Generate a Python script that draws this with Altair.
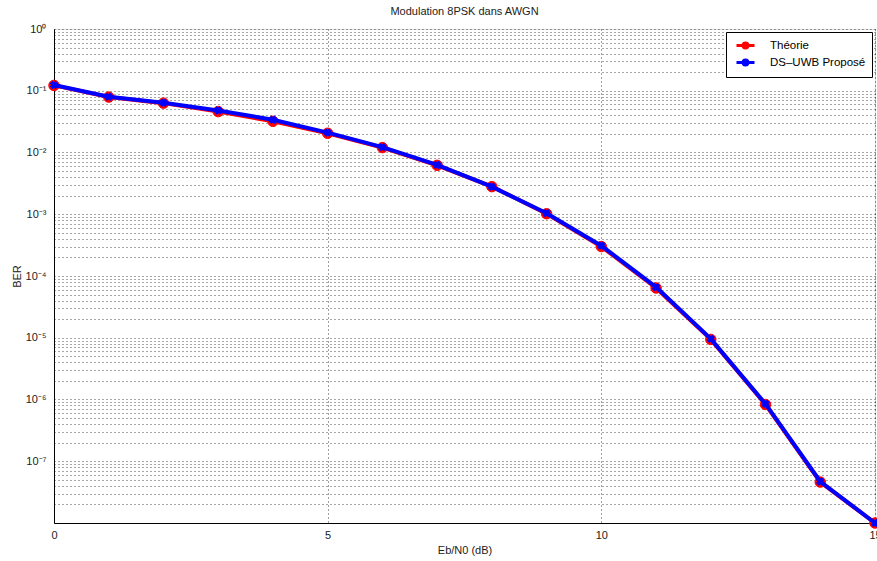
import altair as alt
import pandas as pd

ebn0 = list(range(16))
ber_theory = [0.122, 0.079, 0.063, 0.046, 0.032, 0.0205, 0.0120, 0.0062, 0.0028, 0.00102,
              3.0e-4, 6.4e-5, 9.4e-6, 8.3e-7, 4.6e-8, 1.0e-8]
ber_sim = [0.124, 0.080, 0.064, 0.048, 0.034, 0.0210, 0.0122, 0.0063, 0.0028, 0.00104,
           3.1e-4, 6.6e-5, 9.6e-6, 8.5e-7, 4.7e-8, 1.0e-8]
series_names = ["Théorie", "DS\u2013UWB Proposé"]
series_colors = ["#ff0000", "#0000ff"]
x_ticks = [0, 5, 10, 15]

rows = []
for name, vals in zip(series_names, [ber_theory, ber_sim]):
    for x, v in zip(ebn0, vals):
        rows.append({"x": x, "ber": v, "serie": name})
df = pd.DataFrame(rows)

y_vals = []
for e in range(-8, 1):
    for m in range(1, 10):
        v = m * 10.0 ** e
        if v <= 1.0000001:
            y_vals.append(float(f"{v:.10g}"))

sup = "['10\u2070','10\u207b\u00b9','10\u207b\u00b2','10\u207b\u00b3','10\u207b\u2074','10\u207b\u2075','10\u207b\u2076','10\u207b\u2077','']"
label_expr = (
    "abs(datum.value / pow(10, round(log(datum.value)/LN10)) - 1) < 0.001 ? "
    + sup + "[-round(log(datum.value)/LN10)] : ''"
)

FONT = "Liberation Sans"
legend = alt.Legend(
    title=None, orient="top-right", offset=3,
    fillColor="white", strokeColor="black", padding=6, cornerRadius=0,
    labelFont=FONT, labelFontSize=11.5, labelColor="black",
    symbolType="M-0.5,0L2.5,0M0.6,0A0.4,0.4 0 1 0 1.4,0A0.4,0.4 0 1 0 0.6,0Z",
    symbolSize=144, symbolStrokeWidth=3, rowPadding=0, labelOffset=23,
)
scale = alt.Scale(domain=series_names, range=series_colors)
fill = alt.Fill("serie:N", scale=scale, legend=legend)
stroke = alt.Stroke("serie:N", scale=scale, legend=legend)

x_enc = alt.X(
    "x:Q", title="Eb/N0 (dB)",
    scale=alt.Scale(domain=[0, 15], nice=False, zero=False),
    axis=alt.Axis(values=x_ticks, grid=True, gridDash=[1, 3], gridColor="black",
                  gridOpacity=0.75, ticks=False, labelPadding=6, labelFont=FONT,
                  labelFontSize=11, labelColor="#222", titleFont=FONT, titleFontSize=11,
                  titleFontWeight="normal", titleColor="#222", titlePadding=4,
                  domainColor="black", labelFlush=False),
)
y_enc = alt.Y(
    "ber:Q", title="BER",
    scale=alt.Scale(type="log", domain=[1e-8, 1], nice=False),
    axis=alt.Axis(values=y_vals, labelExpr=label_expr, grid=True, gridDash=[1, 3],
                  gridColor="black", gridOpacity=0.7, ticks=False, labelPadding=8,
                  labelFont=FONT, labelFontSize=11, labelColor="#222", titleFont=FONT,
                  titleFontSize=11, titleFontWeight="normal", titleColor="#222",
                  titlePadding=3, domainColor="black"),
)

theory = df[df.serie == series_names[0]]
sim = df[df.serie == series_names[1]]

red_line = alt.Chart(theory).mark_line(strokeWidth=4).encode(x=x_enc, y=y_enc, stroke=stroke)
red_pts = alt.Chart(theory).mark_point(filled=True, size=110, opacity=1, shape="circle",
                                       strokeWidth=1).encode(x=x_enc, y=y_enc, fill=fill, stroke=stroke)
blue_line = alt.Chart(sim).mark_line(strokeWidth=4).encode(x=x_enc, y=y_enc, stroke=stroke)
blue_pts = alt.Chart(sim).mark_point(filled=True, size=50, opacity=1, shape="cross", angle=45,
                                     strokeWidth=1).encode(x=x_enc, y=y_enc, fill=fill, stroke=stroke)

chart = alt.layer(red_line, red_pts, blue_line, blue_pts).properties(
    width=821, height=494,
    title=alt.TitleParams("Modulation 8PSK dans AWGN", font=FONT, fontSize=11,
                          fontWeight="normal", color="#222", offset=6),
    autosize=alt.AutoSizeParams(type="none"),
    padding={"left": 54, "top": 29, "right": 2, "bottom": 38},
).configure_view(stroke="black", strokeWidth=1).configure(background="white")

chart.save("out.html", embed_options={"renderer": "svg", "actions": False})
